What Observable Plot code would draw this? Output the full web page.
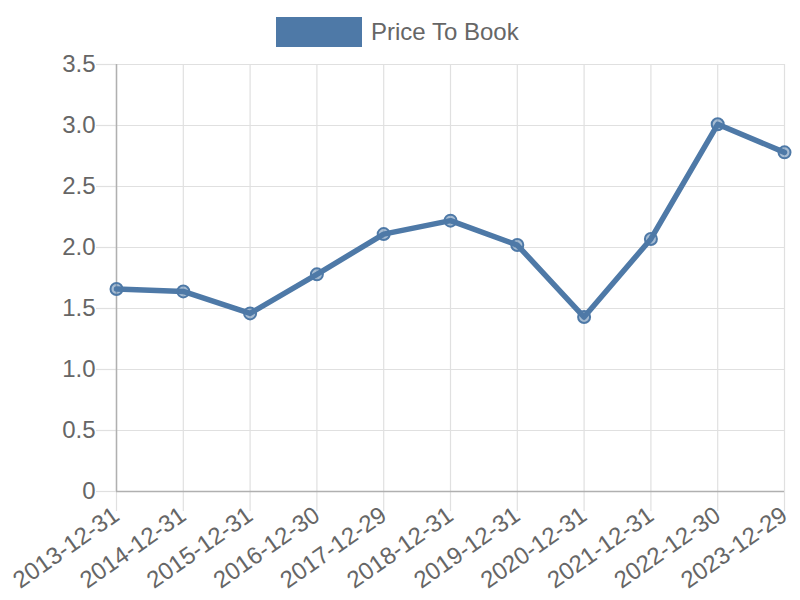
<!DOCTYPE html>
<html>
<head>
<meta charset="utf-8">
<script src="https://cdn.jsdelivr.net/npm/d3@7"></script>
<script src="https://cdn.jsdelivr.net/npm/@observablehq/plot@0.6"></script>
<style>
  body { margin: 0; background: #fff; font-family: "Liberation Sans", Arial, sans-serif; }
  #wrap { width: 800px; height: 600px; position: relative; }
  #legend { position: relative; height: 50px; width: 800px; }
  #legend .box { position: absolute; left: 276px; top: 17px; width: 86px; height: 30px; background: #4e79a7; }
  #legend .lbl { position: absolute; left: 371px; top: 18px; font-size: 24px; line-height: 28px; color: #666; }
</style>
</head>
<body>
<div id="wrap">
  <div id="legend"><div class="box"></div><div class="lbl">Price To Book</div></div>
  <div id="chart"></div>
</div>
<script>
const dates = ["2013-12-31","2014-12-31","2015-12-31","2016-12-30","2017-12-29","2018-12-31","2019-12-31","2020-12-31","2021-12-31","2022-12-30","2023-12-29"];
const priceToBook = [1.66, 1.64, 1.46, 1.78, 2.11, 2.22, 2.02, 1.43, 2.07, 3.01, 2.78];
const yTicks = [0, 0.5, 1.0, 1.5, 2.0, 2.5, 3.0, 3.5];

const data = dates.map((d, i) => ({date: d, value: priceToBook[i]}));
const color = "#4e79a7";
const grid = "#e0e0e0";

const chart = Plot.plot({
  width: 800,
  height: 550,
  marginTop: 14,
  marginBottom: 109,
  marginLeft: 116,
  marginRight: 16,
  style: {fontFamily: "'Liberation Sans', Arial, sans-serif", fontSize: "24px", color: "#666", background: "#fff"},
  x: {type: "point", domain: dates, padding: 0, round: false},
  y: {domain: [0, 3.5]},
  marks: [
    Plot.gridY(yTicks, {stroke: grid, strokeOpacity: 1, strokeWidth: 1.2}),
    Plot.gridX(dates, {stroke: grid, strokeOpacity: 1, strokeWidth: 1.2}),
    Plot.axisY(yTicks, {tickSize: 20, tickPadding: 1, stroke: grid, strokeOpacity: 1, strokeWidth: 1.2, fill: "#666", fontSize: 24,
      tickFormat: d => d === 0 ? "0" : d.toFixed(1), label: null}),
    Plot.axisX(dates, {tickSize: 20, tickPadding: 1, stroke: grid, strokeOpacity: 1, strokeWidth: 1.2, fill: "#666", fontSize: 24,
      tickRotate: -35, label: null}),
    Plot.ruleX([dates[0]], {y1: 0, y2: 3.5, stroke: "#b0b0b0", strokeWidth: 1.5}),
    Plot.ruleY([0], {stroke: "#b0b0b0", strokeWidth: 1.5}),
    Plot.line(data, {x: "date", y: "value", stroke: color, strokeWidth: 5.5}),
    Plot.dot(data, {x: "date", y: "value", r: 6, fill: color, fillOpacity: 0.5, stroke: color, strokeWidth: 2})
  ]
});
document.getElementById("chart").appendChild(chart);
</script>
</body>
</html>
